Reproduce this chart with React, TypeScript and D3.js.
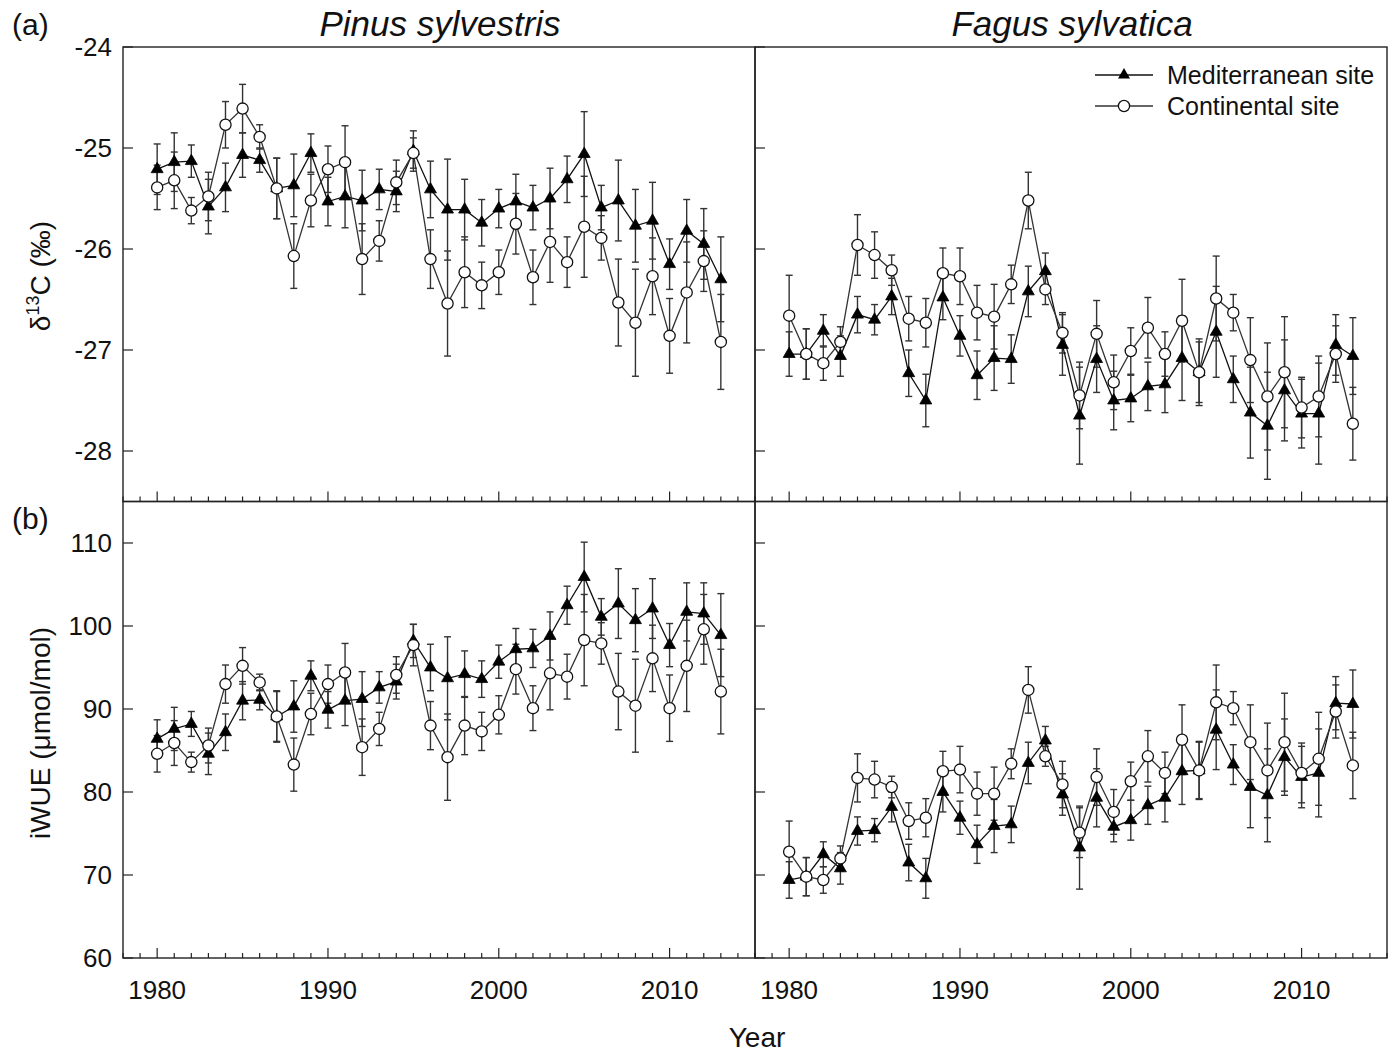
import React from "react";
import * as d3 from "d3";

const years = [1980,1981,1982,1983,1984,1985,1986,1987,1988,1989,1990,1991,1992,1993,1994,1995,1996,1997,1998,1999,2000,2001,2002,2003,2004,2005,2006,2007,2008,2009,2010,2011,2012,2013];

const pinusD13CMed = [-25.21,-25.14,-25.13,-25.58,-25.39,-25.07,-25.12,-25.40,-25.37,-25.05,-25.53,-25.48,-25.52,-25.41,-25.43,-25.03,-25.41,-25.61,-25.61,-25.74,-25.60,-25.53,-25.59,-25.50,-25.31,-25.06,-25.59,-25.52,-25.77,-25.72,-26.15,-25.82,-25.95,-26.30];
const pinusD13CMedErr = [0.25,0.29,0.16,0.27,0.24,0.22,0.12,0.30,0.31,0.19,0.24,0.31,0.30,0.20,0.20,0.20,0.28,0.50,0.30,0.23,0.19,0.27,0.22,0.30,0.23,0.42,0.22,0.40,0.36,0.38,0.25,0.31,0.35,0.42];
const pinusD13CCon = [-25.39,-25.32,-25.62,-25.48,-24.77,-24.61,-24.89,-25.40,-26.07,-25.52,-25.21,-25.14,-26.10,-25.92,-25.34,-25.05,-26.10,-26.54,-26.23,-26.36,-26.23,-25.75,-26.28,-25.93,-26.13,-25.78,-25.89,-26.53,-26.73,-26.27,-26.86,-26.43,-26.12,-26.92];
const pinusD13CConErr = [0.22,0.28,0.13,0.24,0.23,0.24,0.12,0.30,0.32,0.26,0.23,0.36,0.35,0.20,0.22,0.15,0.29,0.52,0.35,0.23,0.22,0.30,0.27,0.40,0.25,0.50,0.22,0.43,0.53,0.38,0.37,0.50,0.30,0.47];

const fagusD13CMed = [-27.04,-27.04,-26.81,-27.06,-26.65,-26.70,-26.47,-27.23,-27.50,-26.48,-26.86,-27.25,-27.08,-27.09,-26.42,-26.22,-26.95,-27.65,-27.09,-27.50,-27.48,-27.36,-27.34,-27.08,-27.22,-26.82,-27.29,-27.62,-27.75,-27.40,-27.63,-27.63,-26.95,-27.06];
const fagusD13CMedErr = [0.22,0.25,0.16,0.20,0.18,0.15,0.18,0.23,0.26,0.22,0.20,0.24,0.32,0.24,0.25,0.18,0.30,0.48,0.33,0.29,0.23,0.24,0.28,0.42,0.33,0.45,0.23,0.45,0.53,0.50,0.34,0.50,0.30,0.38];
const fagusD13CCon = [-26.66,-27.04,-27.13,-26.92,-25.96,-26.06,-26.21,-26.69,-26.73,-26.24,-26.27,-26.63,-26.67,-26.35,-25.52,-26.40,-26.83,-27.45,-26.84,-27.32,-27.01,-26.78,-27.04,-26.71,-27.22,-26.49,-26.63,-27.10,-27.46,-27.22,-27.57,-27.46,-27.04,-27.73];
const fagusD13CConErr = [0.40,0.25,0.17,0.15,0.30,0.23,0.15,0.22,0.24,0.25,0.28,0.27,0.32,0.19,0.28,0.15,0.20,0.33,0.33,0.27,0.23,0.30,0.22,0.41,0.30,0.42,0.18,0.42,0.53,0.55,0.30,0.40,0.28,0.36];

const pinusWUEMed = [86.4,87.6,88.2,84.6,87.2,91.0,91.1,89.1,90.3,94.0,89.9,91.0,91.2,92.6,93.3,98.2,95.0,93.7,94.2,93.6,95.7,97.2,97.3,98.8,102.5,105.9,101.1,102.7,100.7,102.1,97.7,101.7,101.5,98.9];
const pinusWUEMedErr = [2.3,2.6,1.5,2.5,2.2,2.3,1.2,3.0,3.1,1.8,2.2,3.0,3.3,1.9,2.1,2.0,2.8,5.0,2.8,2.2,2.0,2.5,2.3,2.9,2.3,4.2,2.2,4.2,3.8,3.6,2.6,3.5,3.7,5.0];
const pinusWUECon = [84.6,85.9,83.6,85.6,93.0,95.2,93.2,89.1,83.3,89.4,93.0,94.4,85.4,87.6,94.1,97.7,88.0,84.2,88.0,87.3,89.3,94.8,90.1,94.3,93.9,98.3,97.9,92.1,90.4,96.1,90.1,95.2,99.6,92.1];
const pinusWUEConErr = [2.2,2.7,1.2,2.1,2.3,2.2,1.0,3.1,3.2,2.5,2.3,3.5,3.4,2.0,2.2,2.5,2.9,5.2,3.5,2.3,2.3,3.0,2.7,4.4,2.7,5.5,2.5,4.6,5.6,4.0,4.0,5.5,4.2,5.1];

const fagusWUEMed = [69.4,69.8,72.5,70.8,75.3,75.4,78.2,71.5,69.6,80.0,76.9,73.7,75.9,76.1,83.5,86.2,79.7,73.3,79.3,75.8,76.6,78.4,79.3,82.5,82.6,87.5,83.3,80.6,79.6,84.2,81.8,82.3,90.7,90.6];
const fagusWUEMedErr = [2.2,2.3,1.5,1.9,1.7,1.4,1.8,2.2,2.4,2.4,2.0,2.3,3.2,2.2,2.5,1.7,2.5,5.0,3.5,1.8,2.4,2.3,2.9,4.0,3.5,4.8,2.4,4.9,5.6,4.6,3.7,5.3,3.2,4.1];
const fagusWUECon = [72.8,69.8,69.4,72.0,81.7,81.5,80.6,76.5,76.9,82.5,82.7,79.8,79.8,83.4,92.3,84.3,80.9,75.1,81.8,77.6,81.3,84.3,82.3,86.3,82.6,90.8,90.1,86.0,82.6,86.0,82.3,84.0,89.7,83.2];
const fagusWUEConErr = [3.7,2.3,1.6,1.5,2.9,2.2,1.3,2.2,2.3,2.4,2.8,2.6,3.2,1.8,2.8,1.2,2.8,3.0,3.4,2.7,2.3,3.1,2.5,4.2,3.4,4.5,2.0,4.5,5.7,5.9,3.6,5.6,3.2,4.0];

const d13cTicks = [-24, -25, -26, -27, -28];
const wueTicks = [60, 70, 80, 90, 100, 110];
const yearTicks = [1980, 1990, 2000, 2010];
const speciesTitles = ["Pinus sylvestris", "Fagus sylvatica"];
const legendLabels = ["Mediterranean site", "Continental site"];

const FONT = "'Liberation Sans', Arial, Helvetica, sans-serif";
const LEFT = [123, 755];
const PW = 632;
const TOP_Y0 = 47;
const MID_Y = 501.5;
const BOT_Y1 = 958;

const triPath = d3.symbol().type(d3.symbolTriangle).size(62)();

type Series = { vals: number[]; errs: number[]; filled: boolean };

function Panel({ x0, y0, y1, domain, series, showXLabels }: { x0: number; y0: number; y1: number; domain: [number, number]; series: Series[]; showXLabels: boolean }) {
  const xs = d3.scaleLinear().domain([1978, 2015]).range([x0, x0 + PW]);
  const ys = d3.scaleLinear().domain(domain).range([y1, y0]);
  const minor = d3.range(1978, 2016);
  const capW = 3.5;
  return (
    <g>
      {minor.map((yr) => {
        const major = yr % 10 === 0;
        return <line key={"t" + yr} x1={xs(yr)} x2={xs(yr)} y1={y1} y2={y1 - (major ? 10 : 5)} stroke="#222" strokeWidth={1.2} />;
      })}
      {series.map((s, si) => (
        <g key={"e" + si} stroke="#333" strokeWidth={1.4}>
          {years.map((yr, i) => {
            const x = xs(yr);
            const top = ys(s.vals[i] + s.errs[i]);
            const bot = ys(s.vals[i] - s.errs[i]);
            return (
              <g key={i}>
                <line x1={x} x2={x} y1={top} y2={bot} />
                <line x1={x - capW} x2={x + capW} y1={top} y2={top} />
                <line x1={x - capW} x2={x + capW} y1={bot} y2={bot} />
              </g>
            );
          })}
        </g>
      ))}
      {series.map((s, si) => {
        const line = d3.line<number>().x((_, i) => xs(years[i])).y((v) => ys(v));
        return <path key={"l" + si} d={line(s.vals) || ""} fill="none" stroke={s.filled ? "#111" : "#333"} strokeWidth={1.3} />;
      })}
      {series.map((s, si) => (
        <g key={"m" + si}>
          {years.map((yr, i) =>
            s.filled ? (
              <path key={i} d={triPath || ""} transform={`translate(${xs(yr)},${ys(s.vals[i])})`} fill="#000" stroke="#000" strokeWidth={0.8} />
            ) : (
              <circle key={i} cx={xs(yr)} cy={ys(s.vals[i])} r={5.6} fill="#fff" stroke="#111" strokeWidth={1.3} />
            )
          )}
        </g>
      ))}
      <rect x={x0} y={y0} width={PW} height={y1 - y0} fill="none" stroke="#222" strokeWidth={1.4} />
      {showXLabels &&
        yearTicks.map((yr) => (
          <text key={"xl" + yr} x={xs(yr)} y={999} textAnchor="middle" fontSize={26} fontFamily={FONT} fill="#111">
            {yr}
          </text>
        ))}
    </g>
  );
}

function YAxis({ x0, y0, y1, domain, ticks, sides }: { x0: number; y0: number; y1: number; domain: [number, number]; ticks: number[]; sides: number[] }) {
  const ys = d3.scaleLinear().domain(domain).range([y1, y0]);
  return (
    <g>
      {sides.map((sx) =>
        ticks.map((t) => <line key={sx + "_" + t} x1={sx} x2={sx + 10} y1={ys(t)} y2={ys(t)} stroke="#222" strokeWidth={1.2} />)
      )}
      {ticks.map((t) => (
        <text key={"yl" + t} x={x0 - 11} y={ys(t)} dy="0.36em" textAnchor="end" fontSize={26} fontFamily={FONT} fill="#111">
          {t}
        </text>
      ))}
    </g>
  );
}

export default function App() {
  return (
    <svg width={1397} height={1055} style={{ display: "block", position: "absolute", left: 0, top: 0, background: "#fff" }}>
      <rect x={0} y={0} width={1397} height={1055} fill="#fff" />
      <Panel x0={LEFT[0]} y0={TOP_Y0} y1={MID_Y} domain={[-28.5, -24]} showXLabels={false}
        series={[{ vals: pinusD13CMed, errs: pinusD13CMedErr, filled: true }, { vals: pinusD13CCon, errs: pinusD13CConErr, filled: false }]} />
      <Panel x0={LEFT[1]} y0={TOP_Y0} y1={MID_Y} domain={[-28.5, -24]} showXLabels={false}
        series={[{ vals: fagusD13CMed, errs: fagusD13CMedErr, filled: true }, { vals: fagusD13CCon, errs: fagusD13CConErr, filled: false }]} />
      <Panel x0={LEFT[0]} y0={MID_Y} y1={BOT_Y1} domain={[60, 115]} showXLabels={true}
        series={[{ vals: pinusWUEMed, errs: pinusWUEMedErr, filled: true }, { vals: pinusWUECon, errs: pinusWUEConErr, filled: false }]} />
      <Panel x0={LEFT[1]} y0={MID_Y} y1={BOT_Y1} domain={[60, 115]} showXLabels={true}
        series={[{ vals: fagusWUEMed, errs: fagusWUEMedErr, filled: true }, { vals: fagusWUECon, errs: fagusWUEConErr, filled: false }]} />
      <YAxis x0={LEFT[0]} y0={TOP_Y0} y1={MID_Y} domain={[-28.5, -24]} ticks={d13cTicks} sides={LEFT} />
      <YAxis x0={LEFT[0]} y0={MID_Y} y1={BOT_Y1} domain={[60, 115]} ticks={wueTicks} sides={LEFT} />

      <text x={12} y={35} fontSize={30} fontFamily={FONT} fill="#111">(a)</text>
      <text x={12} y={529} fontSize={30} fontFamily={FONT} fill="#111">(b)</text>
      {speciesTitles.map((t, i) => (
        <text key={t} x={LEFT[i] + PW / 2 + 1} y={36} textAnchor="middle" fontSize={35} fontStyle="italic" fontFamily={FONT} fill="#111">
          {t}
        </text>
      ))}

      <text transform="translate(50,276) rotate(-90)" textAnchor="middle" fontSize={28} fontFamily={FONT} fill="#111">
        δ<tspan fontSize={18} dy={-11}>13</tspan><tspan dy={11}>C (‰)</tspan>
      </text>
      <text transform="translate(50,733) rotate(-90)" textAnchor="middle" fontSize={28} fontFamily={FONT} fill="#111">
        iWUE (μmol/mol)
      </text>
      <text x={757} y={1047} textAnchor="middle" fontSize={28} fontFamily={FONT} fill="#111">Year</text>

      <g>
        <line x1={1095} x2={1153} y1={75} y2={75} stroke="#111" strokeWidth={1.3} />
        <path d={triPath || ""} transform="translate(1124,75)" fill="#000" />
        <text x={1167} y={84} fontSize={25} fontFamily={FONT} fill="#111">{legendLabels[0]}</text>
        <line x1={1095} x2={1153} y1={106} y2={106} stroke="#333" strokeWidth={1.3} />
        <circle cx={1124} cy={106} r={5.6} fill="#fff" stroke="#111" strokeWidth={1.3} />
        <text x={1167} y={115} fontSize={25} fontFamily={FONT} fill="#111">{legendLabels[1]}</text>
      </g>
    </svg>
  );
}
